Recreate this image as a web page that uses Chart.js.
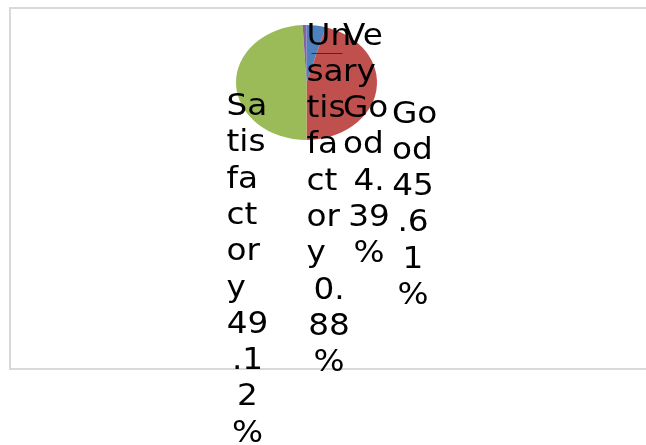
<!DOCTYPE html>
<html>
<head>
<meta charset="utf-8">
<script src="https://cdn.jsdelivr.net/npm/chart.js@4.4.0/dist/chart.umd.min.js"></script>
<style>
  body { margin: 0; background: #fff; }
  canvas { display: block; }
</style>
</head>
<body>
<canvas id="pieChart" width="646" height="445"></canvas>
<script>
const categories = ['Very Good', 'Good', 'Satisfactory', 'Unsatisfactory'];
const values = [4.39, 45.61, 49.12, 0.88];
const colors = ['#4F81BD', '#C0504D', '#9BBB59', '#8064A2'];
// how the narrow data labels wrap (characters per line), like the original
const nameBreaks = [[2, 2, 2, 2], [2, 2], [2, 3, 2, 2, 2, 1], [2, 2, 3, 2, 2, 2, 1]];
const valueBreaks = [[2, 2, 1], [2, 2, 1, 1], [2, 2, 1, 1], [2, 2, 1]];
// label placement: left of name lines, centre of value lines, first baseline
const labelPos = [
  { left: 343, mid: 369, top: 44.5 },
  { left: 392, mid: 413, top: 122.5 },
  { left: 226.5, mid: 247.5, top: 115 },
  { left: 306.5, mid: 329, top: 44.5 }
];

function chunk(str, sizes) {
  const out = [];
  let i = 0;
  sizes.forEach(n => { out.push(str.slice(i, i + n)); i += n; });
  return out;
}

const stretch = 1.226; // pie is drawn as an ellipse
const textStretch = 1.09;
const lineH = 36.3;

const ellipse = {
  id: 'ellipse',
  beforeDraw(chart) {
    const ctx = chart.ctx;
    ctx.save();
    ctx.strokeStyle = '#d9d9d9';
    ctx.lineWidth = 2;
    ctx.strokeRect(10, 8, 650, 361);
    ctx.restore();
  },
  beforeDatasetsDraw(chart) {
    const arc = chart.getDatasetMeta(0).data[0];
    const ctx = chart.ctx;
    ctx.save();
    ctx.translate(arc.x, arc.y);
    ctx.scale(stretch, 1);
    ctx.translate(-arc.x, -arc.y);
  },
  afterDatasetsDraw(chart) {
    chart.ctx.restore();
  }
};

const pieLabels = {
  id: 'pieLabels',
  afterDraw(chart) {
    const ctx = chart.ctx;
    ctx.save();
    // leader line
    ctx.strokeStyle = '#333';
    ctx.lineWidth = 1;
    ctx.beginPath();
    ctx.moveTo(311.5, 53.5);
    ctx.lineTo(342.5, 53.5);
    ctx.stroke();

    ctx.fillStyle = '#000';
    ctx.font = '30px "DejaVu Sans"';
    ctx.textBaseline = 'alphabetic';
    categories.forEach((cat, i) => {
      const p = labelPos[i];
      const names = chunk(cat.replace(' ', ''), nameBreaks[i]);
      const vals = chunk(values[i].toFixed(2) + '%', valueBreaks[i]);
      let y = p.top;
      names.forEach(t => {
        ctx.save();
        ctx.translate(p.left, y);
        ctx.scale(textStretch, 1);
        ctx.textAlign = 'left';
        ctx.fillText(t, 0, 0);
        ctx.restore();
        y += lineH;
      });
      vals.forEach(t => {
        ctx.save();
        ctx.translate(p.mid, y);
        ctx.scale(textStretch, 1);
        ctx.textAlign = 'center';
        ctx.fillText(t, 0, 0);
        ctx.restore();
        y += lineH;
      });
    });
    ctx.restore();
  }
};

new Chart(document.getElementById('pieChart'), {
  type: 'pie',
  data: {
    labels: categories,
    datasets: [{
      data: values,
      backgroundColor: colors,
      borderWidth: 0,
      clip: false
    }]
  },
  options: {
    responsive: false,
    animation: false,
    layout: { padding: { top: 25, bottom: 305, left: 236, right: 269 } },
    plugins: {
      legend: { display: false },
      tooltip: { enabled: false }
    }
  },
  plugins: [ellipse, pieLabels]
});
</script>
</body>
</html>
